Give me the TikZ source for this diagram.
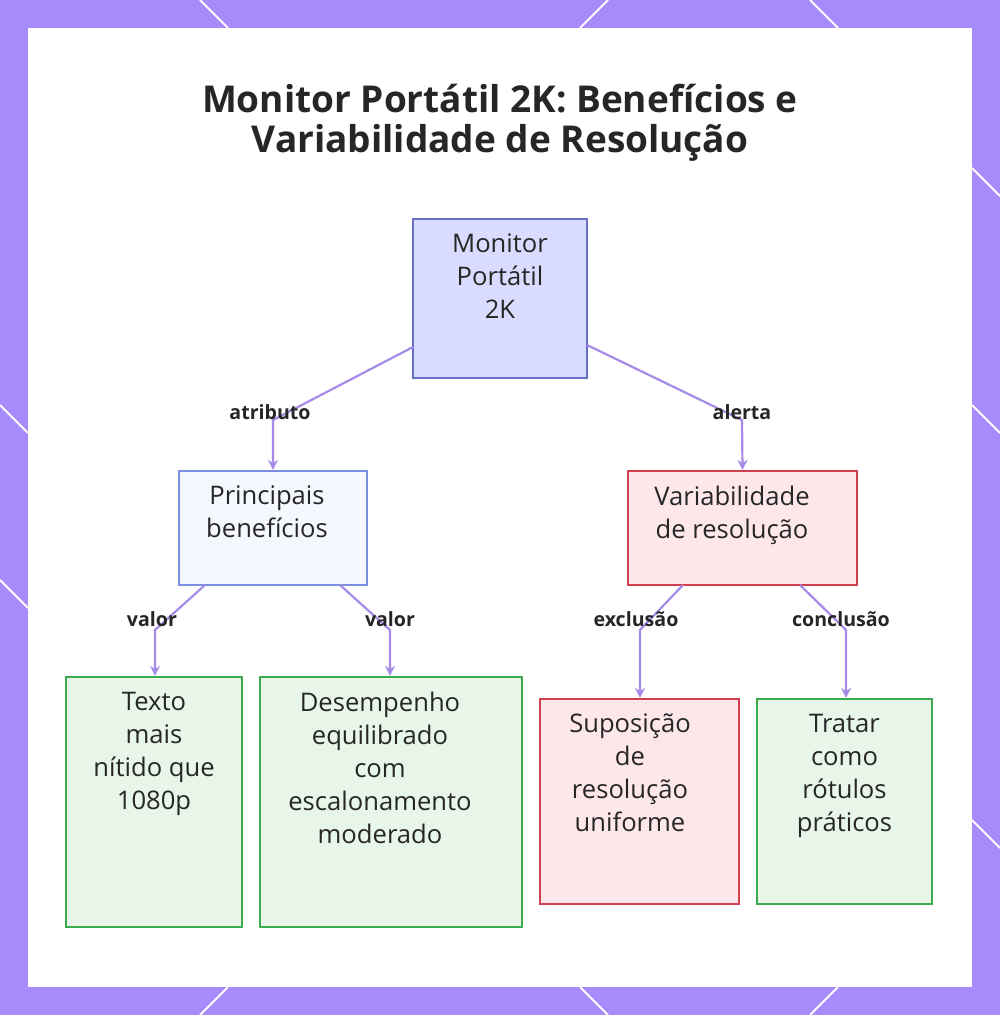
\documentclass[tikz,border=0pt]{standalone}
\usepackage{fontspec}
\setmainfont{Open Sans}
\usetikzlibrary{arrows.meta}
\definecolor{frame}{HTML}{A78BFA}
\definecolor{edge}{HTML}{A78BE8}
\definecolor{rootf}{HTML}{D9DCFF}\definecolor{rootd}{HTML}{6670CC}
\definecolor{bluef}{HTML}{F5F7FF}\definecolor{blued}{HTML}{7A8FE0}
\definecolor{redf}{HTML}{FDE7EA}\definecolor{redd}{HTML}{D04050}
\definecolor{grnf}{HTML}{E8F5E9}\definecolor{grnd}{HTML}{3DAA50}
\begin{document}
\begin{tikzpicture}[x=0.5pt,y=-0.5pt,
  box/.style={draw,line width=1.1pt,align=center,font=\fontsize{12}{16.5}\selectfont},
  txt/.style={align=center,font=\fontsize{12.8}{16.5}\selectfont,text=black!85,anchor=north},
  lab/.style={font=\bfseries\fontsize{9.8}{12}\selectfont,text=black!85},
  conn/.style={draw=edge,line width=1.1pt,-{Stealth[length=5pt,width=5pt]}}]
\useasboundingbox (0,0) rectangle (1000,1015);
\fill[frame] (0,0) rectangle (1000,1015);
\fill[white] (28,28) rectangle (972,987);
\foreach \a/\b/\c/\d in {200/0/228/28, 580/28/608/0, 810/0/838/28, 972/168/1000/196, 972/405/1000/433, 972/820/1000/848, 0/405/28/433, 0/580/28/608, 200/1015/228/987, 580/987/608/1015, 810/1015/838/987}
  \draw[white,line width=1pt] (\a,\b)--(\c,\d);
\node[font=\bfseries\fontsize{18.5}{20}\selectfont,align=center,text=black!85] (title) at (500,123) {Monitor Portátil 2K: Benefícios e\\Variabilidade de Resolução};
% boxes
\node[box,draw=rootd,fill=rootf,minimum width=87pt,minimum height=79.5pt] (root) at (500,298.5) {};
\node[txt] at (500,227) {Monitor\\Portátil\\2K};
\node[box,draw=blued,fill=bluef,minimum width=94pt,minimum height=57pt] (ben) at (273,528) {};
\node[txt] at (267,479) {Principais\\benefícios};
\node[box,draw=redd,fill=redf,minimum width=114.5pt,minimum height=57pt] (var) at (742.5,528) {};
\node[txt] at (732,479) {Variabilidade\\de resolução};
\node[box,draw=grnd,fill=grnf,minimum width=88pt,minimum height=125pt] (tex) at (154,802) {};
\node[txt] at (154,685) {Texto\\mais\\nítido que\\1080p};
\node[box,draw=grnd,fill=grnf,minimum width=131pt,minimum height=125pt] (des) at (391,802) {};
\node[txt] at (380,685) {Desempenho\\equilibrado\\com\\escalonamento\\moderado};
\node[box,draw=redd,fill=redf,minimum width=99.5pt,minimum height=102.5pt] (sup) at (639.5,801.5) {};
\node[txt] at (630,707) {Suposição\\de\\resolução\\uniforme};
\node[box,draw=grnd,fill=grnf,minimum width=87.5pt,minimum height=102.5pt] (tra) at (844.5,801.5) {};
\node[txt] at (844.5,707) {Tratar\\como\\rótulos\\práticos};
% connectors
\coordinate (r1) at (413,347); \coordinate (r2) at (587,345);
\draw[conn] (r1) -- (273,420) -- (ben.north);
\draw[conn] (r2) -- (742,420) -- (var.north);
\draw[conn] (205,585) -- (155,630) -- (tex.north -| 155,0);
\draw[conn] (340,585) -- (390,630) -- (des.north -| 390,0);
\draw[conn] (683,585) -- (640,630) -- (sup.north -| 640,0);
\draw[conn] (800,585) -- (846,630) -- (tra.north -| 846,0);
\node[lab] (l1) at (270,412) {atributo};
\node[lab] (l2) at (742,412) {alerta};
\node[lab] (l3) at (152,619) {valor};
\node[lab] (l4) at (390,619) {valor};
\node[lab] (l5) at (636,619) {exclusão};
\node[lab] (l6) at (841,619) {conclusão};
\end{tikzpicture}
\end{document}
